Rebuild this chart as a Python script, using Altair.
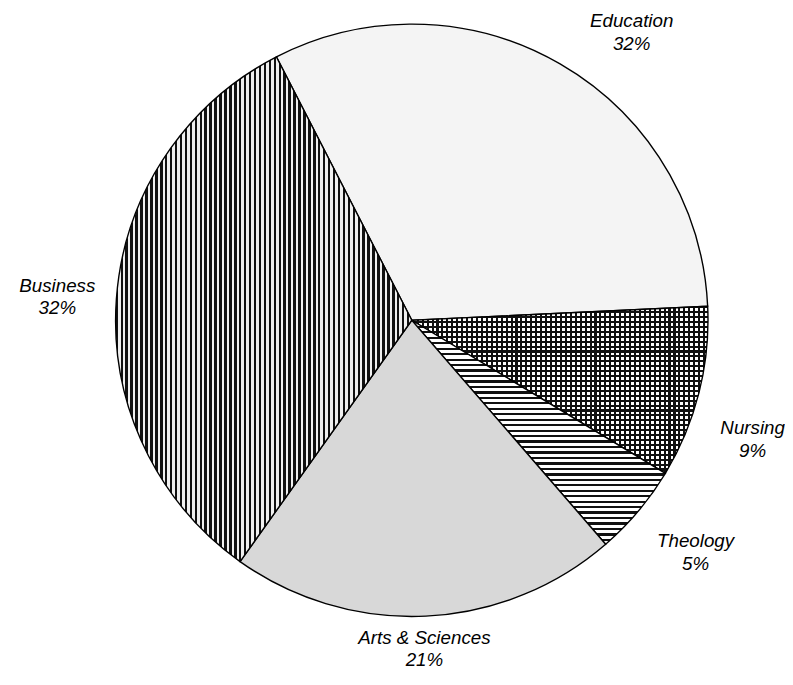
import math
import altair as alt
import pandas as pd

# ---- data ----
categories = ["Education", "Nursing", "Theology", "Arts & Sciences", "Business"]
values = [31.8, 9.4, 5.0, 21.2, 32.6]
pct_labels = ["32%", "9%", "5%", "21%", "32%"]

df = pd.DataFrame({
    "category": categories,
    "value": values,
    "pct": pct_labels,
    "order": list(range(len(categories))),
})

START = math.radians(-27.2)
theta_scale = alt.Scale(domain=[0, 100], range=[START, START + 2 * math.pi])
CX, CY, R = 409, 312, 300


def stripes(n, frac, dark, light, vertical):
    stops = []
    for i in range(n):
        a = i / n
        b = (i + frac) / n
        c = (i + 1) / n
        stops += [
            alt.GradientStop(offset=a, color=dark),
            alt.GradientStop(offset=b, color=dark),
            alt.GradientStop(offset=b, color=light),
            alt.GradientStop(offset=c, color=light),
        ]
    return alt.LinearGradient(
        gradient="linear", stops=stops,
        x1=0, y1=0, x2=1 if vertical else 0, y2=0 if vertical else 1,
    )


base = (
    alt.Chart(df)
    .transform_stack(stack="value", groupby=[], as_=["v0", "v1"],
                     sort=[alt.SortField("order", order="ascending")])
    .transform_calculate(mid="(datum.v0 + datum.v1) / 2",
                         label="datum.category + '\\n' + datum.pct")
)

pos = dict(x=alt.value(CX), y=alt.value(CY))


def arc(cat, fill, stroke=True):
    kw = dict(radius=R, fill=fill)
    if stroke:
        kw.update(stroke="black", strokeWidth=1.4)
    else:
        kw.update(strokeWidth=0)
    return (
        base.transform_filter(alt.datum.category == cat)
        .mark_arc(**kw)
        .encode(theta=alt.Theta("v0:Q", scale=theta_scale),
                theta2=alt.Theta2("v1"), **pos)
    )


def label(cat, r, dx=0, dy=0):
    return (
        base.transform_filter(alt.datum.category == cat)
        .mark_text(radius=r, dx=dx, dy=dy - 11, fontSize=19, fontStyle="italic",
                   font="Liberation Sans", lineBreak="\n", lineHeight=23,
                   align="center", baseline="middle", color="black")
        .encode(theta=alt.Theta("mid:Q", scale=theta_scale), text="label:N", **pos)
    )


layers = [
    arc("Education", "#f4f4f4"),
    arc("Nursing", stripes(60, 0.42, "#111111", "#ffffff", True), stroke=False),
    arc("Nursing", stripes(34, 0.42, "#111111", "rgba(255,255,255,0)", False)),
    arc("Theology", stripes(41, 0.42, "#111111", "#ffffff", False)),
    arc("Arts & Sciences", "#d8d8d8"),
    arc("Business", stripes(60, 0.5, "#111111", "#f0f0f0", True)),
    label("Education", 337, dx=54),
    label("Nursing", 352, dx=4, dy=34),
    label("Theology", 368, dx=6, dy=-2),
    label("Arts & Sciences", 332, dx=-3, dy=1),
    label("Business", 361, dx=1, dy=2),
]

chart = (
    alt.layer(*layers)
    .properties(width=770, height=660, padding=0)
    .configure_view(strokeWidth=0)
)

chart.save("out.html", embed_options={"renderer": "svg", "actions": False})
